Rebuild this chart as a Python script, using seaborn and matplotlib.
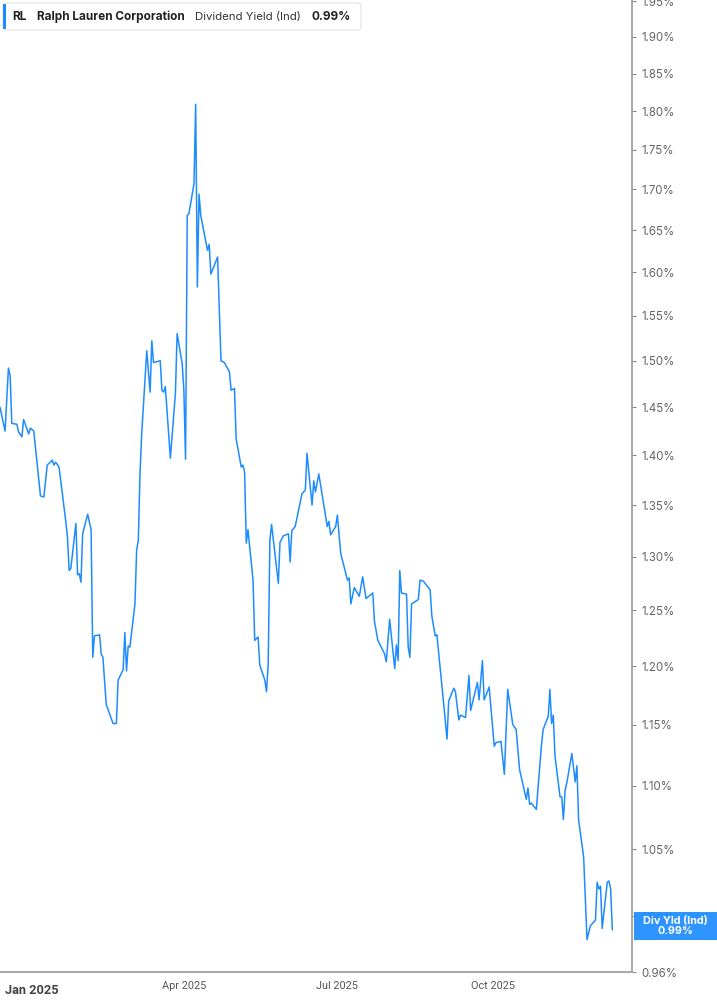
import pandas as pd
import matplotlib
matplotlib.use("Agg")
import matplotlib.pyplot as plt
import matplotlib.ticker as mticker
import matplotlib.dates as mdates
import matplotlib.transforms as mtransforms
from matplotlib.patches import FancyBboxPatch, Rectangle
import seaborn as sns

# Ralph Lauren dividend yield (indicated)
dates = [
    "2024-12-13", "2024-12-16", "2024-12-18", "2024-12-19", "2024-12-20", "2024-12-23",
    "2024-12-24", "2024-12-26", "2024-12-27", "2024-12-30", "2024-12-31",
    "2025-01-02", "2025-01-06", "2025-01-08", "2025-01-10", "2025-01-13", "2025-01-14",
    "2025-01-15", "2025-01-17", "2025-01-21", "2025-01-22", "2025-01-23", "2025-01-24",
    "2025-01-27", "2025-01-28", "2025-01-29", "2025-01-30", "2025-01-31",
    "2025-02-03", "2025-02-05", "2025-02-06", "2025-02-07", "2025-02-10", "2025-02-11",
    "2025-02-12", "2025-02-14", "2025-02-18", "2025-02-20", "2025-02-21", "2025-02-24",
    "2025-02-25", "2025-02-26", "2025-02-27", "2025-02-28",
    "2025-03-03", "2025-03-04", "2025-03-05", "2025-03-06", "2025-03-07", "2025-03-10",
    "2025-03-12", "2025-03-13", "2025-03-14", "2025-03-18", "2025-03-19", "2025-03-20",
    "2025-03-21", "2025-03-24", "2025-03-27", "2025-03-28", "2025-03-31",
    "2025-04-01", "2025-04-02", "2025-04-03", "2025-04-04", "2025-04-07", "2025-04-08",
    "2025-04-09", "2025-04-10", "2025-04-11", "2025-04-15", "2025-04-16", "2025-04-17",
    "2025-04-21", "2025-04-22", "2025-04-23", "2025-04-25", "2025-04-28", "2025-04-29",
    "2025-05-01", "2025-05-02", "2025-05-05", "2025-05-06", "2025-05-07", "2025-05-08",
    "2025-05-09", "2025-05-12", "2025-05-13", "2025-05-15", "2025-05-16", "2025-05-19",
    "2025-05-20", "2025-05-21", "2025-05-22", "2025-05-23", "2025-05-27", "2025-05-28",
    "2025-05-30",
    "2025-06-02", "2025-06-03", "2025-06-04", "2025-06-06", "2025-06-10", "2025-06-12",
    "2025-06-13", "2025-06-16", "2025-06-17", "2025-06-18", "2025-06-20", "2025-06-25",
    "2025-06-26", "2025-06-27", "2025-06-30",
    "2025-07-01", "2025-07-03", "2025-07-07", "2025-07-08", "2025-07-09", "2025-07-11",
    "2025-07-14", "2025-07-16", "2025-07-18", "2025-07-22", "2025-07-23", "2025-07-25",
    "2025-07-29", "2025-07-30",
    "2025-08-01", "2025-08-04", "2025-08-05", "2025-08-06", "2025-08-07", "2025-08-08",
    "2025-08-11", "2025-08-12", "2025-08-13", "2025-08-14", "2025-08-18", "2025-08-19",
    "2025-08-21", "2025-08-25", "2025-08-26", "2025-08-28", "2025-08-29",
    "2025-09-02", "2025-09-04", "2025-09-05", "2025-09-08", "2025-09-09", "2025-09-11",
    "2025-09-12", "2025-09-15", "2025-09-17", "2025-09-18", "2025-09-22", "2025-09-23",
    "2025-09-25", "2025-09-26", "2025-09-29",
    "2025-10-02", "2025-10-03", "2025-10-06", "2025-10-08", "2025-10-10", "2025-10-13",
    "2025-10-15", "2025-10-17", "2025-10-21", "2025-10-22", "2025-10-23", "2025-10-24",
    "2025-10-27", "2025-10-28", "2025-10-30", "2025-10-31",
    "2025-11-03", "2025-11-04", "2025-11-05", "2025-11-06", "2025-11-07", "2025-11-10",
    "2025-11-11", "2025-11-12", "2025-11-13", "2025-11-14", "2025-11-17", "2025-11-19",
    "2025-11-20", "2025-11-21", "2025-11-24", "2025-11-26", "2025-11-28",
    "2025-12-01", "2025-12-02", "2025-12-03", "2025-12-04", "2025-12-05", "2025-12-08",
    "2025-12-09", "2025-12-10", "2025-12-11",
]
div_yield = [
    1.450, 1.425, 1.492, 1.484, 1.433, 1.432, 1.424, 1.419, 1.437, 1.422, 1.428,
    1.425, 1.359, 1.358, 1.390, 1.395, 1.390, 1.393, 1.388, 1.334, 1.319, 1.287, 1.289,
    1.332, 1.283, 1.284, 1.276, 1.322,
    1.341, 1.326, 1.208, 1.227, 1.228, 1.211, 1.208, 1.167, 1.151, 1.151, 1.188, 1.197,
    1.230, 1.196, 1.218, 1.217,
    1.256, 1.306, 1.316, 1.381, 1.422, 1.511, 1.466, 1.522, 1.498, 1.500, 1.468, 1.466,
    1.472, 1.397, 1.465, 1.530, 1.497,
    1.468, 1.396, 1.668, 1.670, 1.707, 1.809, 1.583, 1.694, 1.668, 1.626, 1.633, 1.598,
    1.618, 1.556, 1.500, 1.498, 1.488, 1.468,
    1.470, 1.417, 1.388, 1.390, 1.383, 1.313, 1.326, 1.278, 1.223, 1.226, 1.201, 1.188,
    1.178, 1.202, 1.316, 1.331, 1.275, 1.314, 1.320,
    1.322, 1.295, 1.325, 1.329, 1.361, 1.365, 1.402, 1.350, 1.374, 1.363, 1.381, 1.329,
    1.334, 1.321, 1.329,
    1.340, 1.303, 1.278, 1.280, 1.256, 1.271, 1.263, 1.281, 1.261, 1.266, 1.240, 1.223,
    1.211, 1.204,
    1.242, 1.198, 1.219, 1.205, 1.287, 1.266, 1.265, 1.217, 1.208, 1.256, 1.260, 1.278,
    1.277, 1.269, 1.245, 1.227, 1.228,
    1.168, 1.138, 1.170, 1.181, 1.178, 1.154, 1.158, 1.156, 1.192, 1.162, 1.186, 1.171,
    1.205, 1.171, 1.182,
    1.132, 1.135, 1.136, 1.109, 1.180, 1.150, 1.146, 1.113, 1.089, 1.098, 1.085, 1.086,
    1.081, 1.099, 1.133, 1.146,
    1.157, 1.180, 1.151, 1.158, 1.124, 1.091, 1.091, 1.073, 1.096, 1.102, 1.126, 1.103,
    1.116, 1.073, 1.044, 0.983, 0.993,
    0.997, 1.025, 1.020, 1.022, 0.991, 1.025, 1.026, 1.020, 0.990,
]
y_ticks = [0.96, 1.00, 1.05, 1.10, 1.15, 1.20, 1.25, 1.30, 1.35, 1.40, 1.45, 1.50,
           1.55, 1.60, 1.65, 1.70, 1.75, 1.80, 1.85, 1.90, 1.95]
x_ticks = ["2025-01-01", "2025-04-01", "2025-07-01", "2025-10-01"]
x_labels = ["Jan 2025", "Apr 2025", "Jul 2025", "Oct 2025"]

ticker = "RL"
company = "Ralph Lauren Corporation"
metric = "Dividend Yield (Ind)"
last_label = "0.99%"

df = pd.DataFrame({"date": pd.to_datetime(dates), "yield": div_yield})

sns.set_style("white")
plt.rcParams["font.family"] = ["Inter", "DejaVu Sans"]

blue = "#1e8cff"
W, H = 717, 1005
fig = plt.figure(figsize=(W / 100, H / 100), dpi=100)
ax = fig.add_axes([0, 33 / H, 632 / W, 972 / H])

sns.lineplot(data=df, x="date", y="yield", ax=ax, color=blue, linewidth=1.1)

ax.set_yscale("log")
ax.set_ylim(0.96, 1.952)
ax.set_xlim(pd.Timestamp("2024-12-13"), pd.Timestamp("2025-12-22 16:00"))
ax.yaxis.set_major_locator(mticker.FixedLocator(y_ticks))
ax.yaxis.set_minor_locator(mticker.NullLocator())
ax.yaxis.set_major_formatter(mticker.FuncFormatter(lambda v, p: f"{v:.2f}%"))
ax.yaxis.tick_right()
ax.tick_params(axis="y", length=3, width=0.8, color="#888888", pad=4,
               labelsize=8.3, labelcolor="#666666")

# x ticks: first label drawn separately (bold, larger, a bit lower)
ax.set_xticks(pd.to_datetime(x_ticks))
ax.set_xticklabels([""] + x_labels[1:])
ax.tick_params(axis="x", length=3.5, width=0.8, color="#aaaaaa", pad=3,
               labelsize=7.8, labelcolor="#555555")
for lab in ax.get_xticklabels():
    lab.set_family(["Roboto", "DejaVu Sans"])
xtr = mtransforms.blended_transform_factory(ax.transData, ax.transAxes)
ax.text(mdates.date2num(pd.Timestamp(x_ticks[0])), -0.0195, x_labels[0], transform=xtr,
        ha="center", va="center", fontsize=9.2, fontweight="bold", color="#444444",
        family=["Roboto", "DejaVu Sans"], clip_on=False)

ax.set_xlabel("")
ax.set_ylabel("")
for side in ["top", "left"]:
    ax.spines[side].set_visible(False)
ax.spines["right"].set_color("#999999")
ax.spines["bottom"].set_color("#aaaaaa")
ax.spines["right"].set_linewidth(1.2)
ax.spines["bottom"].set_linewidth(1.5)

# last value tag on the right axis
tr = mtransforms.blended_transform_factory(ax.transAxes, ax.transData)
y_disp = tr.transform((1.0, div_yield[-1]))[1]
yc = y_disp / (fig.get_figheight() * fig.dpi) + 4 / H
fig.patches.append(Rectangle((634 / W, yc - 14 / H), 83 / W, 28 / H,
                             transform=fig.transFigure, facecolor=blue,
                             edgecolor="none", alpha=0.93, zorder=2))
fig.text(675.5 / W, yc, "Div Yld (Ind)\n" + last_label, ha="center", va="center",
         multialignment="center", color="white", fontsize=7.8, fontweight="bold",
         linespacing=1.0, zorder=3)

# header legend box
fig.patches.append(FancyBboxPatch((3 / W, 1 - 30 / H), 358 / W, 27 / H,
                                  boxstyle="round,pad=0,rounding_size=0.004",
                                  transform=fig.transFigure, facecolor="white",
                                  edgecolor="#e3e3e3", linewidth=0.8))
fig.patches.append(Rectangle((3 / W, 1 - 29 / H), 3 / W, 25 / H,
                             transform=fig.transFigure, facecolor=blue, edgecolor="none"))
hy = 1 - 17 / H
fig.text(12 / W, hy, ticker, ha="left", va="center", fontsize=8.6, fontweight="bold", color="#222222")
fig.text(37 / W, hy, company, ha="left", va="center", fontsize=8.5, fontweight="bold", color="#222222")
fig.text(195 / W, hy, metric, ha="left", va="center", fontsize=8.2, color="#333333")
fig.text(311 / W, hy, last_label, ha="left", va="center", fontsize=8.5, fontweight="bold", color="#222222")

fig.savefig("out.png", dpi=100)
